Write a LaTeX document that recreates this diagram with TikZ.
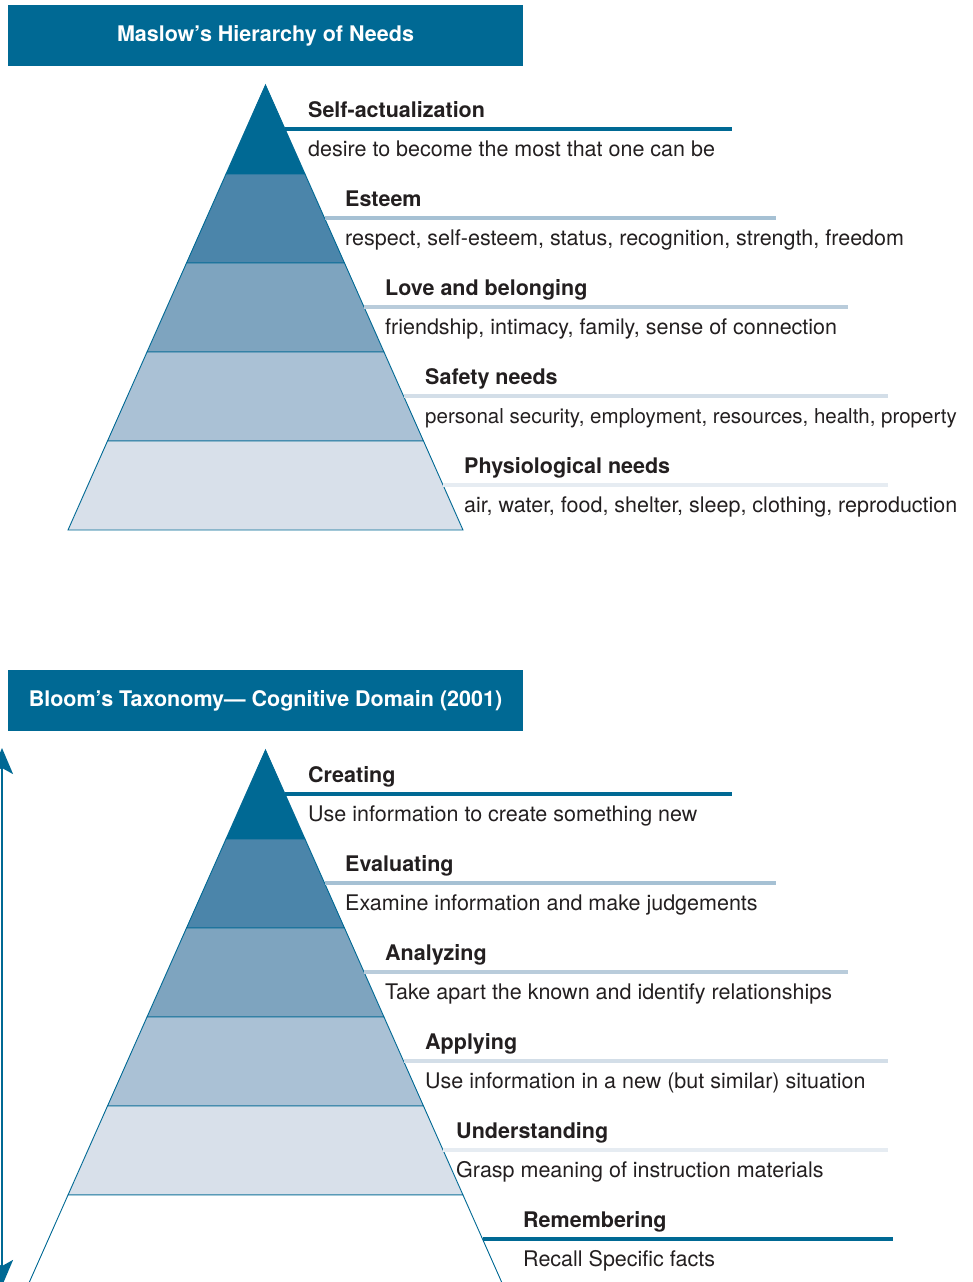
\documentclass[tikz,border=0pt]{standalone}
\usepackage{fontspec}
\setmainfont{TeX Gyre Heros}
\usepackage{tikz}
\usetikzlibrary{positioning,arrows.meta}

\definecolor{deep}{HTML}{006994}
\definecolor{bandB}{HTML}{4B85AA}
\definecolor{bandC}{HTML}{7EA4BF}
\definecolor{bandD}{HTML}{AAC1D5}
\definecolor{bandE}{HTML}{D8E0EA}
\definecolor{ruleB}{HTML}{A6C1D4}
\definecolor{ruleC}{HTML}{B9CCDB}
\definecolor{ruleD}{HTML}{D3DEE8}
\definecolor{ruleE}{HTML}{E6ECF2}
\definecolor{ink}{HTML}{231F20}

\begin{document}
\begin{tikzpicture}[x=1pt, y=-1pt,
  every node/.style={inner sep=0pt, anchor=base west, text=ink,
                     font=\fontsize{21.5}{26}\selectfont},
  lvl/.style={font=\fontsize{21.5}{26}\selectfont\bfseries},
  bar/.style={fill=deep, text=white, anchor=center, minimum width=515pt,
              minimum height=61pt, text height=15.5pt, text depth=3.5pt,
              font=\fontsize{21.5}{26}\selectfont\bfseries},
  band/.style={draw=deep, line width=0.9pt},
  rule/.style={line width=4pt}
]
  \useasboundingbox (0,0) rectangle (973,1282);

  % Maslow
  \node[bar] (mhead) at (265.5,35.5) {Maslow’s Hierarchy of Needs};
  \foreach \k/\c in {1/deep,2/bandB,3/bandC,4/bandD,5/bandE}{
    \pgfmathsetmacro\ta{85+89*(\k-1)}
    \pgfmathsetmacro\tb{85+89*\k}
    \pgfmathsetmacro\wa{0.4438*89*(\k-1)}
    \pgfmathsetmacro\wb{0.4438*89*\k}
    \filldraw[band, fill=\c] (265.5-\wa,\ta) -- (265.5+\wa,\ta)
      -- (265.5+\wb,\tb) -- (265.5-\wb,\tb) -- cycle;
  }
  \foreach \k/\ttl/\desc/\x/\c/\e in {
    1/Self-actualization/{desire to become the most that one can be}/308/deep/732,
    2/Esteem/{respect, self-esteem, status, recognition, strength, freedom}/345/ruleB/776,
    3/Love and belonging/{friendship, intimacy, family, sense of connection}/385/ruleC/848,
    4/Safety needs/{\fontsize{20.5}{26}\selectfont personal security, employment, resources, health, property}/425/ruleD/888,
    5/Physiological needs/{air, water, food, shelter, sleep, clothing, reproduction}/464/ruleE/888}{
    \pgfmathsetmacro\y{117+89*(\k-1)}
    \pgfmathsetmacro\s{265.5+0.4438*(\y+12-85)}
    \node[lvl] (m\k) at (\x,\y) {\ttl};
    \node (md\k) at (\x,\y+39) {\desc};
    \coordinate (ms\k) at (\s,\y+12);
    \coordinate (mt\k) at (\e,\y+12);
    \draw[rule,\c] (ms\k) -- (mt\k);
  }

  % Bloom, same layout further down
  \begin{scope}[yshift=-665pt]
    \node[bar] (bhead) at (265.5,35.5) {Bloom’s Taxonomy— Cognitive Domain (2001)};
    \foreach \k/\c in {1/deep,2/bandB,3/bandC,4/bandD,5/bandE,6/white}{
      \pgfmathsetmacro\ta{85+89*(\k-1)}
      \pgfmathsetmacro\tb{85+89*\k}
      \pgfmathsetmacro\wa{0.4438*89*(\k-1)}
      \pgfmathsetmacro\wb{0.4438*89*\k}
      \filldraw[band, fill=\c] (265.5-\wa,\ta) -- (265.5+\wa,\ta)
        -- (265.5+\wb,\tb) -- (265.5-\wb,\tb) -- cycle;
    }
    \foreach \k/\ttl/\desc/\x/\c/\e in {
      1/Creating/{Use information to create something new}/308/deep/732,
      2/Evaluating/{Examine information and make judgements}/345/ruleB/776,
      3/Analyzing/{Take apart the known and identify relationships}/385/ruleC/848,
      4/Applying/{Use information in a new (but similar) situation}/425/ruleD/888,
      5/Understanding/{Grasp meaning of instruction materials}/456/ruleE/888,
      6/Remembering/{Recall Specific facts}/523/deep/893}{
      \pgfmathsetmacro\y{117+89*(\k-1)}
      \pgfmathsetmacro\s{265.5+0.4438*(\y+12-85)}
      \node[lvl] (b\k) at (\x,\y) {\ttl};
      \node (bd\k) at (\x,\y+39) {\desc};
      \coordinate (bs\k) at (\s,\y+12);
      \coordinate (bt\k) at (\e,\y+12);
      \draw[rule,\c] (bs\k) -- (bt\k);
    }
    \coordinate (lo) at (2,621);
    \coordinate (hi) at (2,83);
    \draw[deep, line width=2pt,
      {Stealth[length=26pt,width=22pt,inset=6pt]}-{Stealth[length=26pt,width=22pt,inset=6pt]}]
      (lo) -- (hi);
  \end{scope}
\end{tikzpicture}
\end{document}
